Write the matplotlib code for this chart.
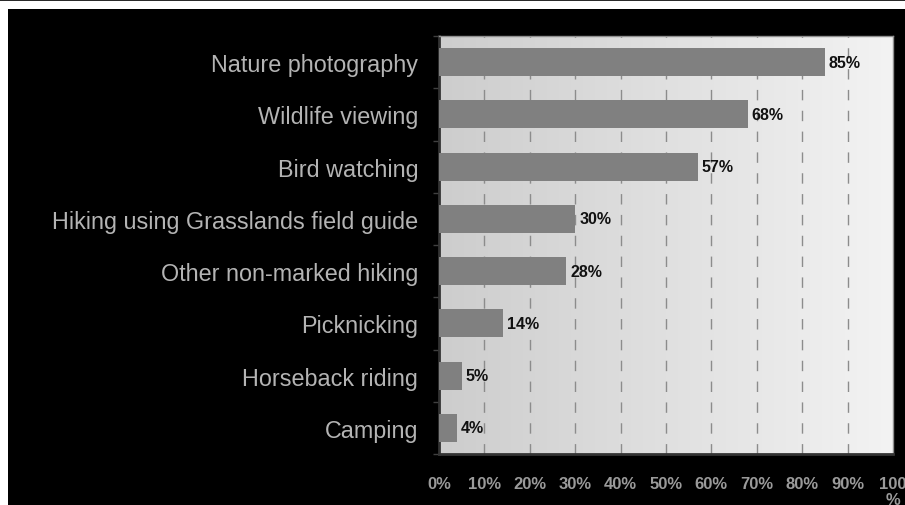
import numpy as np
import matplotlib.pyplot as plt
from matplotlib.patches import Rectangle
from matplotlib.lines import Line2D
from matplotlib.colors import LinearSegmentedColormap

# Datos
categories = ['Nature photography', 'Wildlife viewing', 'Bird watching',
              'Hiking using Grasslands field guide', 'Other non-marked hiking',
              'Picknicking', 'Horseback riding', 'Camping']
values = [85, 68, 57, 30, 28, 14, 5, 4]
xticks = [0, 10, 20, 30, 40, 50, 60, 70, 80, 90, 100]
xticklabels = ['0%', '10%', '20%', '30%', '40%', '50%', '60%', '70%', '80%', '90%', '100\n%']

plt.rcParams['font.family'] = ['Liberation Sans', 'DejaVu Sans']

W, H = 905, 506
fig = plt.figure(figsize=(W / 100, H / 100), dpi=100, facecolor='white')

# fondo negro y línea superior
fig.patches.append(Rectangle((8 / W, 0), 1, (H - 10) / H, transform=fig.transFigure,
                             facecolor='black', edgecolor='none', zorder=-5))
fig.lines.append(Line2D([0, 1], [1 - 0.5 / H, 1 - 0.5 / H], transform=fig.transFigure,
                        color='black', linewidth=1.2, zorder=-5))

ax = fig.add_axes([439 / W, 1 - 455 / H, (893 - 439) / W, (455 - 37) / H])
ax.set_facecolor('none')

# degradado del área del gráfico
grad = np.linspace(0, 1, 256).reshape(1, -1)
cmap = LinearSegmentedColormap.from_list('g', ['#cdcdcd', '#f3f3f3'])
ax.imshow(grad, extent=[0, 100, -0.5, len(categories) - 0.5], aspect='auto',
          cmap=cmap, zorder=0, interpolation='bicubic')

y = np.arange(len(categories))
ax.barh(y, values, height=0.54, color='#808080', zorder=3)
for yi, v in zip(y, values):
    ax.text(v + 0.9, yi, f'{v}%', va='center', ha='left', fontsize=11.5,
            fontweight='bold', color='#111111', zorder=4)

ax.set_xlim(0, 100)
ax.set_ylim(len(categories) - 0.5, -0.5)

ax.set_xticks(xticks)
ax.set_xticklabels(xticklabels, fontsize=12, fontweight='bold', color='#9a9a9a',
                   linespacing=1.1)
ax.tick_params(axis='x', length=0, pad=16)

ax.set_yticks(y)
ax.set_yticklabels(categories, fontsize=16.8, color='#b4b4b4')
ax.set_yticks(np.arange(len(categories) + 1) - 0.5, minor=True)
ax.tick_params(axis='y', which='major', length=0, pad=15)
ax.tick_params(axis='y', which='minor', length=4, color='#404040', width=1)

for xv in xticks[1:-1]:
    ax.axvline(xv, color='#8c8c8c', linewidth=1, linestyle=(0, (7.5, 7.5)), zorder=1)

ax.spines['left'].set_color('#333333')
ax.spines['left'].set_linewidth(2)
ax.spines['bottom'].set_color('#333333')
ax.spines['bottom'].set_linewidth(2)
ax.spines['top'].set_color('#909090')
ax.spines['top'].set_linewidth(1)
ax.spines['right'].set_color('#909090')
ax.spines['right'].set_linewidth(1)

plt.savefig('out.png', dpi=100, facecolor=fig.get_facecolor())
